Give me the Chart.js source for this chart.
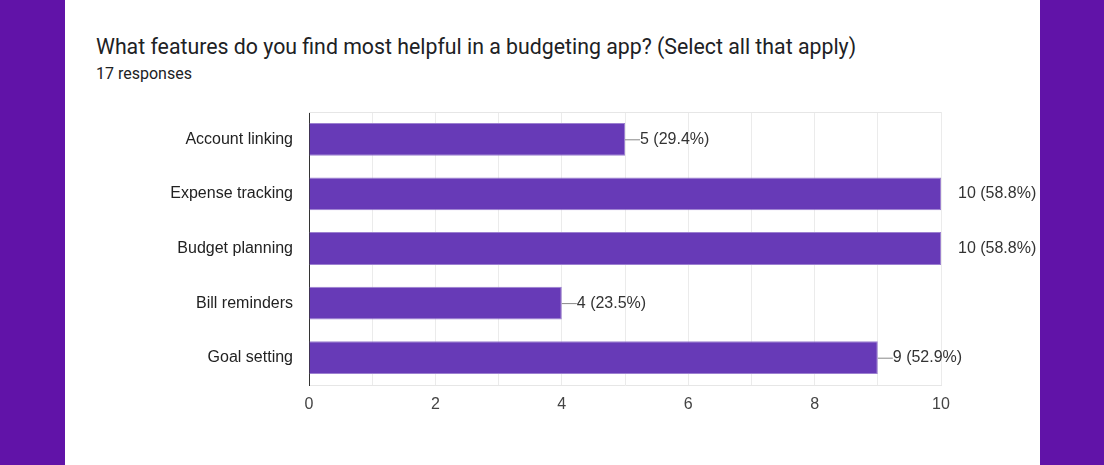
<!DOCTYPE html>
<html>
<head>
<meta charset="utf-8">
<script src="https://cdn.jsdelivr.net/npm/chart.js@4"></script>
<style>
body { margin:0; width:1104px; height:465px; background:#fff; position:relative; overflow:hidden; font-family:Roboto, "Liberation Sans", Arial, sans-serif; }
.strip { position:absolute; top:0; width:65px; height:465px; background:#6113a8; }
#title { position:absolute; left:96px; top:34px; font-size:21.3px; color:#202124; white-space:nowrap; }
#sub { position:absolute; left:96px; top:64px; font-size:16px; color:#202124; }
#c { position:absolute; left:0; top:0; }
</style>
</head>
<body>
<div class="strip" style="left:0"></div>
<div class="strip" style="left:1040px"></div>
<div id="title">What features do you find most helpful in a budgeting app? (Select all that apply)</div>
<div id="sub">17 responses</div>
<canvas id="c" width="1104" height="465"></canvas>
<script>
let categories = ["Account linking", "Expense tracking", "Budget planning", "Bill reminders", "Goal setting"];
let counts = [5, 10, 10, 4, 9];
let percents = [29.4, 58.8, 58.8, 23.5, 52.9];
let xTicks = [0, 2, 4, 6, 8, 10];

// value labels with a short stem, plus the top border of the plot
const annotate = {
id: 'annotate',
afterDatasetsDraw(chart) {
const ctx = chart.ctx;
const x = chart.scales.x, y = chart.scales.y;
const a = chart.chartArea;
ctx.save();
ctx.strokeStyle = '#e6e6e6';
ctx.lineWidth = 1;
ctx.beginPath();
ctx.moveTo(a.left, a.top + 0.5);
ctx.lineTo(a.right, a.top + 0.5);
ctx.stroke();
ctx.font = '16px "Liberation Sans", Arial, sans-serif';
ctx.fillStyle = '#333';
ctx.textBaseline = 'middle';
counts.forEach((v, i) => {
let px = x.getPixelForValue(v);
let py = y.getPixelForValue(i);
if (v < x.max) {
ctx.strokeStyle = '#888';
ctx.beginPath();
ctx.moveTo(px, py + 0.5);
ctx.lineTo(px + 15, py + 0.5);
ctx.stroke();
}
ctx.fillText(v + ' (' + percents[i].toFixed(1) + '%)', px + (v < x.max ? 15 : 17), py);
});
ctx.restore();
}
};

new Chart(document.getElementById('c'), {
type: 'bar',
data: {
labels: categories,
datasets: [{
data: counts,
backgroundColor: '#673ab7',
borderColor: '#9c80d0',
borderWidth: 1,
barPercentage: 0.6,
categoryPercentage: 1
}]
},
options: {
indexAxis: 'y',
responsive: false,
animation: false,
layout: { padding: { top: 112, right: 163, bottom: 0, left: 0 } },
plugins: { legend: { display: false }, tooltip: { enabled: false } },
scales: {
x: {
min: 0, max: 10,
afterFit(s) { s.height = 80; },
grid: { color: '#ebebeb', drawTicks: false },
border: { color: '#e6e6e6' },
ticks: {
stepSize: 1,
padding: 10,
color: '#444',
font: { size: 16, family: '"Liberation Sans", Arial, sans-serif' },
callback: v => xTicks.includes(v) ? v : ''
}
},
y: {
afterFit(s) { s.width = 309; },
grid: { display: false },
border: { color: '#333', width: 1 },
ticks: {
padding: 8,
color: '#222',
font: { size: 16, family: '"Liberation Sans", Arial, sans-serif' }
}
}
}
},
plugins: [annotate]
});
</script>
</body>
</html>
